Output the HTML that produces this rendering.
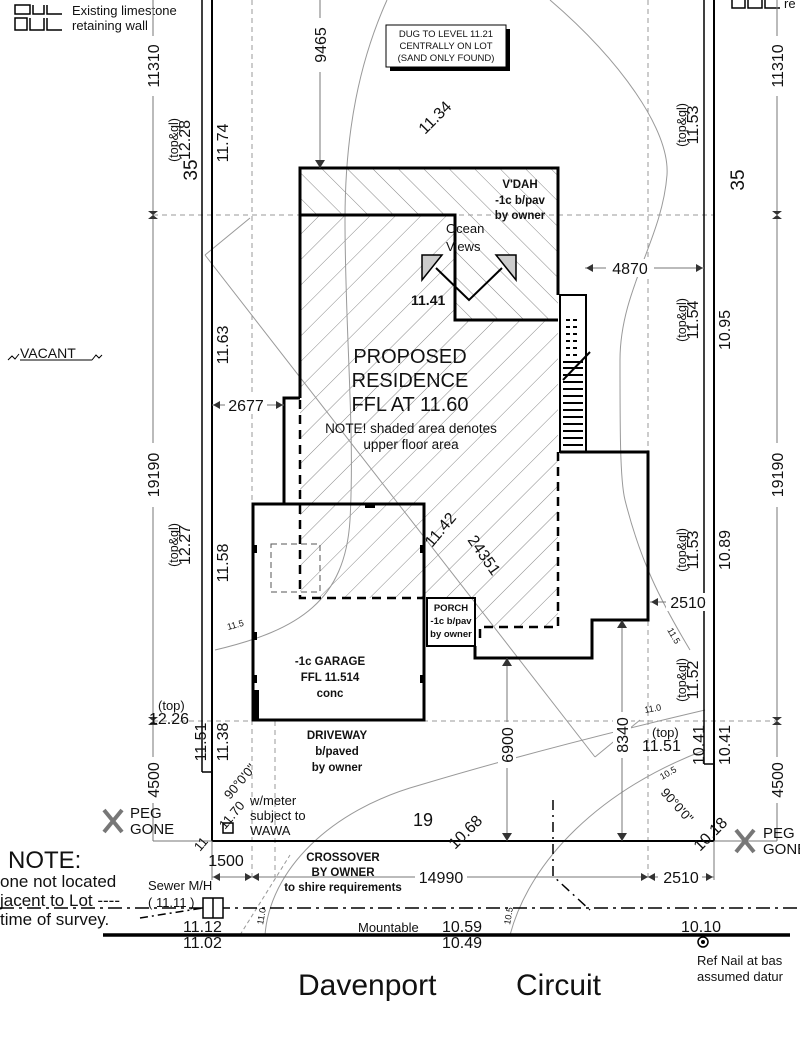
<!DOCTYPE html>
<html><head><meta charset="utf-8"><style>
html,body{margin:0;padding:0;background:#fff}
svg{display:block}
text{font-family:"Liberation Sans",sans-serif;fill:#111}
.d{font-size:16px}
.s{font-size:11.5px}
.b{font-weight:bold}
</style></head><body>
<svg width="800" height="1059" viewBox="0 0 800 1059" xmlns="http://www.w3.org/2000/svg">
<defs>
<pattern id="hA" patternUnits="userSpaceOnUse" width="18" height="18" patternTransform="rotate(45)">
<line x1="0" y1="0" x2="0" y2="18" stroke="#888" stroke-width="1"/></pattern>
<pattern id="hB" patternUnits="userSpaceOnUse" width="18" height="18" patternTransform="rotate(-45)">
<line x1="0" y1="0" x2="0" y2="18" stroke="#888" stroke-width="1"/></pattern>
</defs>
<rect width="800" height="1059" fill="#fff"/>

<polygon points="300,168 558,168 558,320 455,320 455,215 300,215" fill="url(#hB)"/>
<polygon points="300,215 455,215 455,320 558,320 558,627 475,627 475,598 424,598 300,598" fill="url(#hA)"/>

<g stroke="#999" stroke-width="1" stroke-dasharray="5,4" fill="none">
<line x1="252" y1="0" x2="252" y2="877"/>
<line x1="648" y1="0" x2="648" y2="877"/>
<line x1="153" y1="215" x2="714" y2="215"/>
<line x1="153" y1="721" x2="777" y2="721"/>
<line x1="275" y1="721" x2="275" y2="877"/>
</g>

<g stroke="#999" stroke-width="1" fill="none">
<path d="M387,0 C360,60 345,130 345,220 C345,330 355,430 350,520 C345,600 300,630 215,650"/>
<path d="M550,0 C620,60 670,130 667,175 C662,240 620,290 620,360 C620,430 620,480 625,500 C640,560 660,600 690,650"/>
<path d="M265,935 C270,870 330,810 420,785 C520,755 620,730 705,710"/>
<path d="M510,935 C530,860 600,790 705,750"/>
<line x1="205" y1="255" x2="595" y2="757"/>
<line x1="205" y1="255" x2="250" y2="218"/>
<line x1="595" y1="757" x2="640" y2="720"/>
<line x1="240" y1="935" x2="290" y2="855" stroke-dasharray="4,3"/>
</g>
<text x="228" y="630" font-size="9" fill="#777" transform="rotate(-15 228 630)">11.5</text>
<text x="667" y="630" font-size="9" fill="#777" transform="rotate(60 667 630)">11.5</text>
<text x="645" y="713" font-size="9" fill="#777" transform="rotate(-10 645 713)">11.0</text>
<text x="662" y="780" font-size="9" fill="#777" transform="rotate(-30 662 780)">10.5</text>
<text x="263" y="925" font-size="9" fill="#777" transform="rotate(-80 263 925)">11.0</text>
<text x="510" y="925" font-size="9" fill="#777" transform="rotate(-80 510 925)">10.5</text>

<g stroke="#000" fill="none">
<line x1="212" y1="0" x2="212" y2="841" stroke-width="2"/>
<line x1="202" y1="0" x2="202" y2="772" stroke-width="1.5"/>
<line x1="202" y1="772" x2="212" y2="772" stroke-width="1.5"/>
<line x1="714" y1="0" x2="714" y2="841" stroke-width="2"/>
<line x1="704" y1="0" x2="704" y2="764" stroke-width="1.5"/>
<line x1="704" y1="764" x2="714" y2="764" stroke-width="1.5"/>
<line x1="212" y1="841" x2="714" y2="841" stroke-width="2"/>
</g>

<g stroke="#000" stroke-width="3" fill="none">
<polyline points="300,398 300,168 558,168 558,295"/>
<polyline points="300,215 455,215 455,320 558,320"/>
<polyline points="300,398 284,398 284,504"/>
<rect x="253" y="504" width="171" height="216"/>
<rect x="427" y="598" width="48" height="48" stroke-width="2"/>
<polyline points="475,646 475,658 592,658 592,620 648,620 648,452 560,452"/>
<rect x="560" y="295" width="26" height="157" stroke-width="2"/>
</g>
<g stroke="#000" stroke-width="2">
<line x1="563" y1="362" x2="583" y2="362"/><line x1="563" y1="368" x2="583" y2="368"/><line x1="563" y1="375" x2="583" y2="375"/>
<line x1="563" y1="382" x2="583" y2="382"/><line x1="563" y1="389" x2="583" y2="389"/><line x1="563" y1="396" x2="583" y2="396"/>
<line x1="563" y1="403" x2="583" y2="403"/><line x1="563" y1="410" x2="583" y2="410"/><line x1="563" y1="417" x2="583" y2="417"/>
<line x1="563" y1="424" x2="583" y2="424"/><line x1="563" y1="431" x2="583" y2="431"/><line x1="563" y1="438" x2="583" y2="438"/>
<line x1="563" y1="445" x2="583" y2="445"/>
</g>
<g stroke="#000" stroke-width="2" stroke-dasharray="4,3">
<line x1="566" y1="320" x2="580" y2="320"/><line x1="566" y1="327" x2="580" y2="327"/><line x1="566" y1="334" x2="580" y2="334"/>
<line x1="566" y1="341" x2="580" y2="341"/><line x1="566" y1="348" x2="580" y2="348"/><line x1="566" y1="355" x2="580" y2="355"/>
</g>
<polyline points="563,380 590,352" stroke="#000" stroke-width="2" fill="none"/>
<g stroke="#000" stroke-width="2.5" stroke-dasharray="9,6" fill="none">
<polyline points="300,400 300,598 424,598"/>
<polyline points="558,452 558,627 480,627 480,640"/>
</g>
<rect x="271" y="544" width="49" height="48" stroke="#555" stroke-width="1" stroke-dasharray="6,4" fill="none"/>
<g fill="#000"><rect x="253" y="690" width="6" height="30"/><rect x="253" y="545" width="4" height="8"/><rect x="253" y="632" width="4" height="8"/><rect x="253" y="675" width="4" height="8"/><rect x="420" y="545" width="4" height="8"/><rect x="420" y="675" width="4" height="8"/><rect x="365" y="504" width="10" height="4"/></g>

<polygon points="422,255 442,255 422,280" fill="#ccc" stroke="#000" stroke-width="1.5"/>
<polygon points="496,255 516,255 516,280" fill="#ccc" stroke="#000" stroke-width="1.5"/>
<polyline points="436,268 469,300 502,268" stroke="#000" stroke-width="2" fill="none"/>
<text x="446" y="233" font-size="13" fill="#666">Ocean</text>
<text x="446" y="251" font-size="13" fill="#666">Views</text>
<text x="411" y="305" font-size="14" class="b">11.41</text>

<text x="410" y="363" font-size="20" text-anchor="middle">PROPOSED</text>
<text x="410" y="387" font-size="20" text-anchor="middle">RESIDENCE</text>
<text x="410" y="411" font-size="20" text-anchor="middle">FFL AT 11.60</text>
<text x="411" y="433" font-size="13.5" text-anchor="middle">NOTE! shaded area denotes</text>
<text x="411" y="449" font-size="13.5" text-anchor="middle">upper floor area</text>
<text x="520" y="188" class="s b" text-anchor="middle">V'DAH</text>
<text x="520" y="204" class="s b" text-anchor="middle">-1c b/pav</text>
<text x="520" y="219" class="s b" text-anchor="middle">by owner</text>
<text x="330" y="665" class="s b" text-anchor="middle">-1c GARAGE</text>
<text x="330" y="681" class="s b" text-anchor="middle">FFL 11.514</text>
<text x="330" y="697" class="s b" text-anchor="middle">conc</text>
<text x="451" y="611" font-size="9.5" class="b" text-anchor="middle">PORCH</text>
<text x="451" y="624" font-size="9.5" class="b" text-anchor="middle">-1c b/pav</text>
<text x="451" y="637" font-size="9.5" class="b" text-anchor="middle">by owner</text>
<text x="337" y="739" class="s b" text-anchor="middle">DRIVEWAY</text>
<text x="337" y="755" class="s b" text-anchor="middle">b/paved</text>
<text x="337" y="771" class="s b" text-anchor="middle">by owner</text>
<text x="343" y="861" class="s b" text-anchor="middle">CROSSOVER</text>
<text x="343" y="876" class="s b" text-anchor="middle">BY OWNER</text>
<text x="343" y="891" class="s b" text-anchor="middle">to shire requirements</text>
<text x="413" y="826" font-size="18">19</text>
<text x="250" y="805" font-size="13">w/meter</text>
<text x="250" y="820" font-size="13">subject to</text>
<text x="250" y="835" font-size="13">WAWA</text>
<rect x="223" y="823" width="10" height="10" fill="none" stroke="#000" stroke-width="1.5"/>

<rect x="390" y="29" width="120" height="42" fill="#000"/>
<rect x="386" y="25" width="120" height="42" fill="#fff" stroke="#000" stroke-width="1"/>
<text x="446" y="37" font-size="9.5" text-anchor="middle">DUG TO LEVEL 11.21</text>
<text x="446" y="49" font-size="9.5" text-anchor="middle">CENTRALLY ON LOT</text>
<text x="446" y="61" font-size="9.5" text-anchor="middle">(SAND ONLY FOUND)</text>

<g stroke="#000" stroke-width="1.5" fill="none">
<path d="M15,5 H30 V14 H15 Z M33,5 V14 H44 V5 M47,5 V14 H62"/>
<path d="M15,18 H27 V30 H15 Z M30,18 V30 H44 V18 M47,18 V30 H62"/>
<path d="M732,0 V8 H745 V0 M748,0 V8 H762 V0 M765,0 V8 H780"/>
</g>
<text x="72" y="15" font-size="13">Existing limestone</text>
<text x="72" y="30" font-size="13">retaining wall</text>
<text x="784" y="8" font-size="13">re</text>
<text x="20" y="358" font-size="14">VACANT</text>
<path d="M8,360 l4,-4 3,3 4,-5 M20,360 H92 M92,360 l4,-5 3,3 3,-3" stroke="#000" fill="none"/>

<g stroke="#777" stroke-width="1" fill="none">
<line x1="153" y1="0" x2="153" y2="841"/>
<line x1="777" y1="0" x2="777" y2="841"/>
<line x1="320" y1="0" x2="320" y2="168"/>
<line x1="212" y1="877" x2="714" y2="877"/>
<line x1="212" y1="405" x2="284" y2="405"/>
<line x1="585" y1="268" x2="704" y2="268"/>
<line x1="650" y1="602" x2="704" y2="602"/>
<line x1="507" y1="658" x2="507" y2="841"/>
<line x1="622" y1="620" x2="622" y2="841"/>
<line x1="212" y1="841" x2="212" y2="880"/>
<line x1="714" y1="841" x2="714" y2="880"/>
<line x1="153" y1="841" x2="212" y2="841"/>
<line x1="714" y1="841" x2="777" y2="841"/>
</g>
<g fill="#333">
<path d="M148,211 h10 l-5,4z M148,219 h10 l-5,-4z"/>
<path d="M772,211 h10 l-5,4z M772,219 h10 l-5,-4z"/>
<path d="M148,717 h10 l-5,4z M148,725 h10 l-5,-4z"/>
<path d="M772,717 h10 l-5,4z M772,725 h10 l-5,-4z"/>
<path d="M315,160 h10 l-5,8z"/>
<path d="M502,666 h10 l-5,-8z M502,833 h10 l-5,8z"/>
<path d="M617,628 h10 l-5,-8z M617,833 h10 l-5,8z"/>
<path d="M586,268 l7,-4 v8z M703,268 l-7,-4 v8z"/>
<path d="M651,602 l7,-4 v8z M703,602 l-7,-4 v8z"/>
<path d="M213,405 l7,-4 v8z M283,405 l-7,-4 v8z"/>
<path d="M213,877 l7,-4 v8z M252,877 l-7,-4 v8z M252,877 l7,-4 v8z"/>
<path d="M648,877 l-7,-4 v8z M648,877 l7,-4 v8z M713,877 l-7,-4 v8z"/>
</g>
<g class="d" text-anchor="middle">
<rect x="144" y="36" width="18" height="60" fill="#fff"/>
<text transform="translate(159,66) rotate(-90)">11310</text>
<rect x="768" y="36" width="18" height="60" fill="#fff"/>
<text transform="translate(783,66) rotate(-90)">11310</text>
<rect x="144" y="443" width="18" height="64" fill="#fff"/>
<text transform="translate(159,475) rotate(-90)">19190</text>
<rect x="144" y="757" width="18" height="46" fill="#fff"/>
<rect x="768" y="443" width="18" height="64" fill="#fff"/>
<text transform="translate(783,475) rotate(-90)">19190</text>
<text transform="translate(159,780) rotate(-90)">4500</text>
<rect x="768" y="757" width="18" height="46" fill="#fff"/>
<text transform="translate(783,780) rotate(-90)">4500</text>
<rect x="311" y="18" width="18" height="54" fill="#fff"/>
<text transform="translate(326,45) rotate(-90)">9465</text>
<rect x="498" y="722" width="18" height="46" fill="#fff"/>
<text transform="translate(513,745) rotate(-90)">6900</text>
<rect x="613" y="712" width="18" height="46" fill="#fff"/>
<text transform="translate(628,735) rotate(-90)">8340</text>
<rect x="225" y="396" width="42" height="18" fill="#fff"/>
<text x="246" y="411">2677</text>
<rect x="606" y="259" width="48" height="18" fill="#fff"/>
<text x="630" y="274">4870</text>
<rect x="666" y="593" width="42" height="18" fill="#fff"/>
<text x="688" y="608">2510</text>
<rect x="415" y="868" width="52" height="18" fill="#fff"/>
<text x="441" y="883">14990</text>
<rect x="658" y="868" width="44" height="18" fill="#fff"/>
<text x="681" y="883">2510</text>
<text x="226" y="866">1500</text>
</g>

<g class="d" text-anchor="middle">
<text transform="translate(197,170) rotate(-90)" font-size="19">35</text>
<text transform="translate(744,180) rotate(-90)" font-size="19">35</text>
<text transform="translate(228,143) rotate(-90)">11.74</text>
<text transform="translate(228,345) rotate(-90)">11.63</text>
<text transform="translate(228,563) rotate(-90)">11.58</text>
<text transform="translate(228,742) rotate(-90)">11.38</text>
<text transform="translate(206,742) rotate(-90)">11.51</text>
<text transform="translate(730,330) rotate(-90)">10.95</text>
<text transform="translate(730,550) rotate(-90)">10.89</text>
<text transform="translate(730,745) rotate(-90)">10.41</text>
<text transform="translate(704,745) rotate(-90)">10.41</text>
<text transform="translate(190,140) rotate(-90)">12.28</text>
<text transform="translate(178,140) rotate(-90)" font-size="12.5">(top&amp;gl)</text>
<text transform="translate(190,545) rotate(-90)">12.27</text>
<text transform="translate(178,545) rotate(-90)" font-size="12.5">(top&amp;gl)</text>
<text transform="translate(698,125) rotate(-90)">11.53</text>
<text transform="translate(686,125) rotate(-90)" font-size="12.5">(top&amp;gl)</text>
<text transform="translate(698,320) rotate(-90)">11.54</text>
<text transform="translate(686,320) rotate(-90)" font-size="12.5">(top&amp;gl)</text>
<text transform="translate(698,550) rotate(-90)">11.53</text>
<text transform="translate(686,550) rotate(-90)" font-size="12.5">(top&amp;gl)</text>
<text transform="translate(698,680) rotate(-90)">11.52</text>
<text transform="translate(686,680) rotate(-90)" font-size="12.5">(top&amp;gl)</text>
</g>
<text x="158" y="710" font-size="13">(top)</text>
<text x="149" y="724" class="d">12.26</text>
<text x="652" y="737" font-size="13">(top)</text>
<text x="642" y="751" class="d">11.51</text>
<text class="d" transform="translate(425,135) rotate(-45)">11.34</text>
<text class="d" transform="translate(432,548) rotate(-50)">11.42</text>
<text class="d" transform="translate(467,540) rotate(55)">24351</text>
<text class="d" transform="translate(455,850) rotate(-45)">10.68</text>
<text class="d" transform="translate(700,852) rotate(-45)">10.18</text>
<text font-size="13" transform="translate(225,830) rotate(-50)">11.70</text>
<text font-size="13" transform="translate(230,800) rotate(-50)">90°0'0"</text>
<text font-size="13" transform="translate(660,793) rotate(48)">90°0'0"</text>
<text font-size="13" transform="translate(200,852) rotate(-50)">11</text>

<g stroke="#777" stroke-width="4"><line x1="104" y1="810" x2="122" y2="832"/><line x1="122" y1="810" x2="104" y2="832"/>
<line x1="736" y1="830" x2="754" y2="852"/><line x1="754" y1="830" x2="736" y2="852"/></g>
<text x="130" y="818" font-size="15">PEG</text>
<text x="130" y="834" font-size="15">GONE</text>
<text x="763" y="838" font-size="15">PEG</text>
<text x="763" y="854" font-size="15">GONE</text>

<text x="8" y="868" font-size="24">NOTE:</text>
<text x="0" y="887" font-size="17">one not located</text>
<text x="0" y="906" font-size="17">jacent to Lot ----</text>
<text x="0" y="925" font-size="17">time of survey.</text>
<text x="148" y="890" font-size="13">Sewer M/H</text>
<text x="148" y="907" font-size="13">( 11.11 )</text>

<line x1="0" y1="908" x2="800" y2="908" stroke="#000" stroke-width="1.5" stroke-dasharray="14,5,3,5"/>
<line x1="140" y1="918" x2="203" y2="908" stroke="#000" stroke-width="1.5" stroke-dasharray="8,4,2,4"/>
<rect x="203" y="898" width="20" height="20" fill="#fff" stroke="#000" stroke-width="1.5"/>
<line x1="213" y1="898" x2="213" y2="918" stroke="#000" stroke-width="1.5"/>
<polyline points="553,800 553,876 590,910" stroke="#000" stroke-width="1.5" fill="none" stroke-dasharray="10,5,2,5"/>
<line x1="103" y1="935" x2="790" y2="935" stroke="#000" stroke-width="3.5"/>
<text x="183" y="932" class="d">11.12</text>
<text x="183" y="948" class="d">11.02</text>
<text x="358" y="932" font-size="13">Mountable</text>
<text x="442" y="932" class="d">10.59</text>
<text x="442" y="948" class="d">10.49</text>
<text x="681" y="932" class="d">10.10</text>
<circle cx="703" cy="942" r="5" fill="#fff" stroke="#000" stroke-width="1.5"/>
<circle cx="703" cy="942" r="2" fill="#000"/>
<text x="697" y="965" font-size="13">Ref Nail at bas</text>
<text x="697" y="981" font-size="13">assumed datur</text>
<text x="298" y="995" font-size="30">Davenport</text>
<text x="516" y="995" font-size="30">Circuit</text>
</svg>
</body></html>
